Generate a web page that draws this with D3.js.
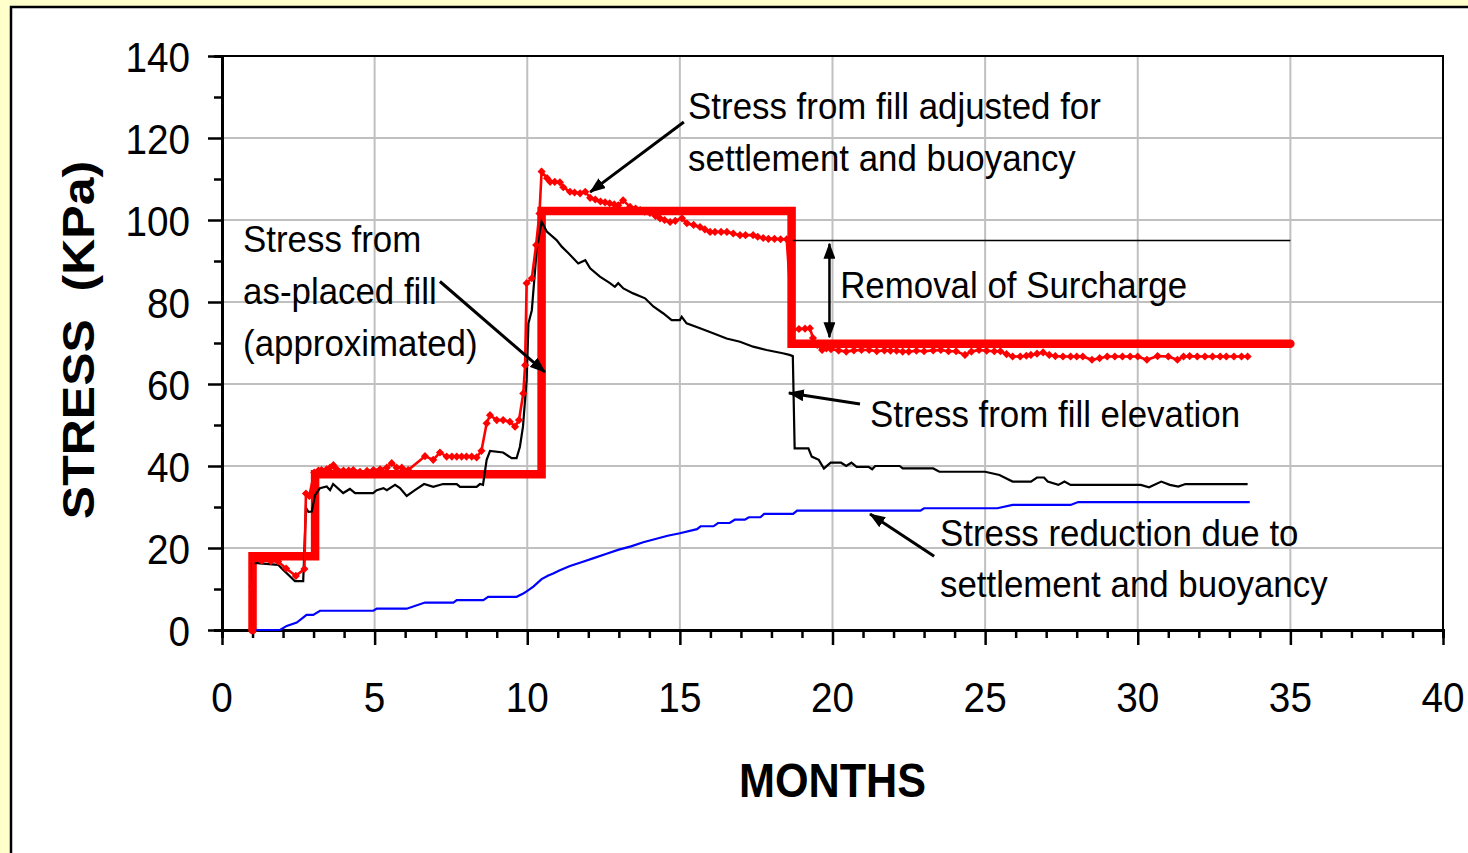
<!DOCTYPE html>
<html>
<head>
<meta charset="utf-8">
<script src="https://cdn.jsdelivr.net/npm/d3@7"></script>
<style>
  html, body { margin: 0; padding: 0; background: #ffffcc; }
  svg { display: block; }
  text { font-family: Arial, "Liberation Sans", sans-serif; fill: #000; }
</style>
</head>
<body>
<svg id="chart" width="1468" height="853"></svg>
<script>
// ---- data ----
const xTicks = [0, 5, 10, 15, 20, 25, 30, 35, 40];
const yTicks = [0, 20, 40, 60, 80, 100, 120, 140];

// thick red: stress from as-placed fill (approximated)
const placedMonths = [1, 1, 3.05, 3.05, 10.47, 10.47, 18.66, 18.66, 35];
const placedValues = [0, 18, 18, 38, 38, 102.2, 102.2, 69.8, 69.8];

// thin red with markers: stress from fill adjusted for settlement and buoyancy
const adjMonths = [1.0, 1.0, 1.02, 1.3, 1.6, 1.84, 2.1, 2.42, 2.7, 2.75, 2.86, 3.02, 3.16, 3.26, 3.43, 3.54, 3.65, 3.76, 3.98, 4.15,
  4.3, 4.52, 4.75, 4.96, 5.18, 5.4, 5.56, 5.72, 5.89, 6.1, 6.65, 6.92, 7.14, 7.36, 7.53, 7.69, 7.85, 8.01, 8.18, 8.34,
  8.5, 8.67, 8.78, 9.0, 9.21, 9.43, 9.6, 9.73, 9.87, 9.93, 9.98, 10.15, 10.29, 10.4, 10.47, 10.65, 10.75, 10.9, 11.07, 11.18,
  11.4, 11.55, 11.73, 11.9, 12.06, 12.23, 12.4, 12.55, 12.7, 12.85, 12.98, 13.14, 13.37, 13.55, 13.7, 13.85, 14.02, 14.2, 14.35, 14.5,
  14.68, 14.85, 15.07, 15.23, 15.45, 15.66, 15.82, 15.99, 16.15, 16.35, 16.54, 16.75, 16.97, 17.15, 17.4, 17.55, 17.73, 17.9, 18.1, 18.3,
  18.5, 18.7, 18.9, 19.1, 19.26, 19.36, 19.5, 19.66, 19.8, 19.95, 20.2, 20.45, 20.7, 20.95, 21.2, 21.45, 21.7, 21.9, 22.1, 22.3,
  22.5, 22.75, 23.0, 23.3, 23.55, 23.8, 24.05, 24.34, 24.55, 24.8, 25.05, 25.3, 25.5, 25.7, 25.9, 26.15, 26.35, 26.5, 26.7, 26.9,
  27.1, 27.3, 27.55, 27.8, 28.0, 28.2, 28.5, 28.75, 29.0, 29.25, 29.5, 29.75, 30.0, 30.3, 30.65, 31.0, 31.3, 31.5, 31.7, 31.95,
  32.2, 32.45, 32.7, 32.9, 33.15, 33.4, 33.6];
const adjValues = [0, 10.6, 17, 16.9, 16.8, 16.7, 15, 13.2, 14.9, 33.3, 32.7, 38.4, 38.9, 39, 39.2, 39.6, 40.2, 39.2, 38.9, 38.9,
  39, 38.6, 38.8, 39, 39.2, 39.6, 40.7, 39.6, 39.6, 39, 42.4, 41.5, 43.3, 42.3, 42.3, 42.3, 42.3, 42.3, 42.3, 42.1,
  43.7, 50.4, 52.4, 51.2, 51.2, 50.8, 49.6, 51.2, 57.7, 64.6, 84.6, 85.8, 93.9, 101.6, 111.8, 110.2, 109.3, 109.3, 109.2, 108,
  106.9, 106.7, 106.5, 106.9, 105.4, 105, 104.5, 104.3, 104.1, 103.8, 103.6, 104.8, 103.2, 102.8, 102.4, 102, 101.7, 101, 100.4, 100,
  99.5, 99.8, 100.4, 99.2, 98.8, 98.3, 97.7, 97.1, 97.1, 97.1, 97.1, 96.7, 96.3, 96.3, 96.3, 95.9, 95.6, 95.4, 95.4, 95.3,
  95.3, 73.2, 73.4, 73.5, 73.6, 71.2, 69.5, 68.3, 68.7, 68.5, 68.2, 67.9, 68.2, 68.3, 68.3, 68.0, 68.2, 68.1, 68.1, 67.9,
  67.9, 68.1, 68.0, 68.2, 68.3, 68.0, 68.0, 67.1, 67.9, 68.3, 68.1, 68.0, 68.0, 67.3, 66.7, 66.7, 66.9, 67.1, 67.4, 67.7,
  67.1, 66.8, 66.7, 66.7, 66.7, 66.7, 65.9, 66.3, 66.7, 66.7, 66.7, 66.7, 66.7, 65.9, 66.8, 66.7, 65.9, 66.7, 66.8, 66.7,
  66.7, 66.7, 66.7, 66.7, 66.7, 66.7, 66.7];

// thin black: stress from fill elevation
const fillMonths = [1.0, 1.0, 1.84, 1.95, 2.39, 2.66, 2.75, 2.83, 2.94, 3.05, 3.21, 3.43, 3.54, 3.64, 3.97, 4.19, 4.36, 4.95, 5.07, 5.29,
  5.4, 5.67, 5.83, 6.05, 6.32, 6.62, 6.92, 7.24, 7.69, 7.8, 8.34, 8.45, 8.55, 8.67, 8.78, 9.21, 9.49, 9.65, 9.76, 9.86,
  9.98, 10.04, 10.15, 10.31, 10.47, 10.64, 10.96, 11.13, 11.35, 11.67, 11.9, 12.06, 12.38, 12.71, 12.87, 12.98, 13.15, 13.47, 13.86, 14.13,
  14.46, 14.73, 15.0, 15.06, 15.22, 15.66, 16.09, 16.53, 16.97, 17.4, 17.84, 18.37, 18.59, 18.7, 18.76, 19.21, 19.32, 19.55, 19.72, 19.94,
  20.28, 20.45, 20.62, 20.79, 21.18, 21.3, 21.4, 22.2, 22.3, 23.3, 23.5, 25.0, 25.47, 25.9, 26.5, 26.7, 26.93, 27.05, 27.4, 27.6,
  27.8, 30.1, 30.37, 30.77, 31.05, 31.33, 31.56, 33.6];
const fillValues = [0, 16.4, 15.9, 15.1, 11.9, 11.9, 29.8, 28.8, 28.9, 32.9, 34.6, 35, 34.1, 35.6, 33.4, 34.4, 33.4, 33.4, 34.1, 34.6,
  34.1, 35.4, 34.6, 32.7, 34.1, 35.6, 34.9, 35.6, 35.6, 34.9, 34.9, 35.6, 35.4, 41.5, 43.7, 43.3, 41.9, 41.9, 44.7, 49.6,
  61, 74.8, 78, 92.7, 99.6, 97.2, 95.1, 93.5, 91.9, 89.4, 90.2, 88.2, 86.2, 84.6, 83.7, 84.6, 83.3, 82.1, 80.9, 78.9,
  77.2, 75.6, 75.6, 76.4, 74.8, 73.6, 72.4, 71.1, 70.3, 69.1, 68.3, 67.5, 67.1, 66.8, 44.3, 44.3, 42.3, 41.5, 39.4, 40.8,
  40.8, 40, 40.8, 39.8, 39.8, 39.2, 40, 40, 39.4, 39.4, 38.6, 38.6, 37.8, 36.2, 36.2, 37.2, 37.2, 36.2, 35.4, 36.2,
  35.4, 35.4, 34.8, 36.2, 35.4, 35, 35.6, 35.6];

// thin blue: stress reduction due to settlement and buoyancy
const reducMonths = [1.0, 1.9, 2.12, 2.45, 2.77, 2.99, 3.21, 4.96, 5.07, 6.05, 6.65, 7.58, 7.69, 8.56, 8.72, 9.65, 9.87, 9.98, 10.2, 10.47,
  10.69, 10.85, 11.07, 11.4, 11.8, 12.2, 12.6, 13.0, 13.4, 13.8, 14.2, 14.6, 15.0, 15.56, 15.68, 16.1, 16.25, 16.63, 16.8, 17.13,
  17.26, 17.64, 17.76, 18.71, 18.84, 22.88, 23.0, 25.4, 25.9, 27.8, 28.05, 33.67];
const reducValues = [0, 0, 1, 1.8, 3.7, 3.7, 4.7, 4.7, 5.2, 5.2, 6.7, 6.7, 7.3, 7.3, 8.1, 8.1, 8.9, 9.4, 10.6, 12.4,
  13.3, 13.8, 14.6, 15.6, 16.6, 17.6, 18.6, 19.6, 20.4, 21.4, 22.2, 23.0, 23.6, 24.6, 25.3, 25.3, 26.1, 26.1, 26.9, 26.9,
  27.5, 27.5, 28.3, 28.3, 29.1, 29.1, 29.7, 29.7, 30.5, 30.5, 31.2, 31.2];

// surcharge reference level
const surchargeMonths = [18.7, 35];
const surchargeLevel = 95;

// annotations (data units: months, kPa)
const noteTexts = [
  { lines: ["Stress from fill adjusted for", "settlement and buoyancy"], m: 15.27, v: [124.6, 111.95] },
  { lines: ["Stress from", "as-placed fill", "(approximated)"], m: 0.69, v: [92.2, 79.5, 66.8] },
  { lines: ["Removal of Surcharge"], m: 20.25, v: [81] },
  { lines: ["Stress from fill elevation"], m: 21.23, v: [49.5] },
  { lines: ["Stress reduction due to", "settlement and buoyancy"], m: 23.52, v: [20.5, 8.1] }
];
const noteArrows = [
  { from: [15.13, 123.9], to: [12.06, 106.8], both: false },
  { from: [7.14, 85.0], to: [10.58, 62.9], both: false },
  { from: [19.9, 94.2], to: [19.9, 71.4], both: true },
  { from: [20.9, 55.1], to: [18.57, 57.8], both: false },
  { from: [23.33, 18.0], to: [21.23, 28.3], both: false }
];

// ---- drawing ----
const svg = d3.select('#chart');
const squeeze = 0.9;      // the original picture is a little narrow horizontally
const noteSqueeze = 0.93;

const x = d3.scaleLinear().domain([0, 40]).range([222, 1443]);
const y = d3.scaleLinear().domain([0, 140]).range([630, 56]);

// white panel with border
svg.append('rect')
  .attr('x', 11).attr('y', 7).attr('width', 1480).attr('height', 870)
  .attr('fill', '#fff').attr('stroke', '#000').attr('stroke-width', 2.5);

const defs = svg.append('defs');
defs.append('marker')
  .attr('id', 'head')
  .attr('markerUnits', 'userSpaceOnUse')
  .attr('viewBox', '0 0 16 12')
  .attr('refX', 15).attr('refY', 6)
  .attr('markerWidth', 16).attr('markerHeight', 12)
  .attr('orient', 'auto-start-reverse')
  .append('path').attr('d', 'M0,0 L16,6 L0,12 Z').attr('fill', '#000');

// grid
const grid = svg.append('g');
grid.selectAll('line.gx').data(xTicks.slice(1, -1)).join('line')
  .attr('x1', d => x(d)).attr('x2', d => x(d))
  .attr('y1', y(0)).attr('y2', y(140))
  .attr('stroke', '#c0c0c0').attr('stroke-width', 2);
grid.selectAll('line.gy').data(yTicks.slice(1, -1)).join('line')
  .attr('x1', x(0)).attr('x2', x(40))
  .attr('y1', d => y(d)).attr('y2', d => y(d))
  .attr('stroke', '#c0c0c0').attr('stroke-width', 2);

// plot border
svg.append('rect')
  .attr('x', x(0)).attr('y', y(140))
  .attr('width', x(40) - x(0)).attr('height', y(0) - y(140))
  .attr('fill', 'none').attr('stroke', '#000').attr('stroke-width', 2);

// axes with outside ticks (major + minor)
const xAxisG = svg.append('g').attr('transform', `translate(0,${y(0)})`);
xAxisG.call(d3.axisBottom(x).tickValues(d3.range(0, 41, 1)).tickSize(8).tickFormat(''));
xAxisG.call(g => g.selectAll('.tick').filter(d => d % 5 === 0).select('line').attr('y2', 15));
xAxisG.call(g => g.select('.domain').attr('stroke-width', 3));
xAxisG.selectAll('.tick line').attr('stroke-width', 2.5);

const yAxisG = svg.append('g').attr('transform', `translate(${x(0)},0)`);
yAxisG.call(d3.axisLeft(y).tickValues(d3.range(0, 141, 10)).tickSize(8).tickFormat(''));
yAxisG.call(g => g.selectAll('.tick').filter(d => d % 20 === 0).select('line').attr('x2', -14));
yAxisG.call(g => g.select('.domain').attr('stroke-width', 3));
yAxisG.selectAll('.tick line').attr('stroke-width', 2.5);

function addText(parent, px, py, str, size, anchor, weight, rotate, sx) {
  return parent.append('text')
    .attr('transform', `translate(${px},${py}) scale(${sx || squeeze},1)` + (rotate ? ` rotate(${rotate})` : ''))
    .attr('text-anchor', anchor || 'start')
    .attr('font-size', size)
    .attr('font-weight', weight || 'normal')
    .text(str);
}

// tick labels
const labels = svg.append('g');
xTicks.forEach(t => addText(labels, x(t), 712, String(t), 43, 'middle'));
yTicks.forEach(t => addText(labels, 190, y(t) + 15.5, String(t), 43, 'end'));

// axis titles
addText(svg, x(20), 797, 'MONTHS', 48, 'middle', 'bold');
addText(svg, 94, 340, 'STRESS  (KPa)', 50, 'middle', 'bold', -90).attr('xml:space', 'preserve');

// series
const toPts = (ms, vs) => ms.map((m, i) => ({ m: m, v: vs[i] }));
const line = d3.line().x(d => x(d.m)).y(d => y(d.v));

const placed = toPts(placedMonths, placedValues);
const adjusted = toPts(adjMonths, adjValues);
const fill = toPts(fillMonths, fillValues);
const reduc = toPts(reducMonths, reducValues);

const plot = svg.append('g');

plot.append('path').attr('d', line(placed))
  .attr('fill', 'none').attr('stroke', '#ff0000').attr('stroke-width', 8.5)
  .attr('stroke-linejoin', 'miter').attr('stroke-linecap', 'round');

plot.append('path').attr('d', line(reduc))
  .attr('fill', 'none').attr('stroke', '#0000ff').attr('stroke-width', 2.2);

plot.append('path').attr('d', line(fill))
  .attr('fill', 'none').attr('stroke', '#000').attr('stroke-width', 2.2);

plot.append('path').attr('d', line(adjusted))
  .attr('fill', 'none').attr('stroke', '#ff0000').attr('stroke-width', 2.6);

plot.selectAll('path.diamond').data(adjusted).join('path')
  .attr('class', 'diamond')
  .attr('d', d3.symbol().type(d3.symbolDiamond2).size(42))
  .attr('transform', d => `translate(${x(d.m)},${y(d.v)})`)
  .attr('fill', '#ff0000');

// surcharge reference line
plot.append('line')
  .attr('x1', x(surchargeMonths[0])).attr('x2', x(surchargeMonths[1]))
  .attr('y1', y(surchargeLevel)).attr('y2', y(surchargeLevel))
  .attr('stroke', '#000').attr('stroke-width', 1.6);

// annotations
const notes = svg.append('g');
noteTexts.forEach(n => {
  n.lines.forEach((s, i) => addText(notes, x(n.m), y(n.v[i]), s, 37.5, 'start', 'normal', 0, noteSqueeze));
});
noteArrows.forEach(a => {
  notes.append('line')
    .attr('x1', x(a.from[0])).attr('y1', y(a.from[1]))
    .attr('x2', x(a.to[0])).attr('y2', y(a.to[1]))
    .attr('stroke', '#000').attr('stroke-width', a.both ? 2.5 : 3)
    .attr('marker-end', 'url(#head)')
    .attr('marker-start', a.both ? 'url(#head)' : null);
});
</script>
</body>
</html>
